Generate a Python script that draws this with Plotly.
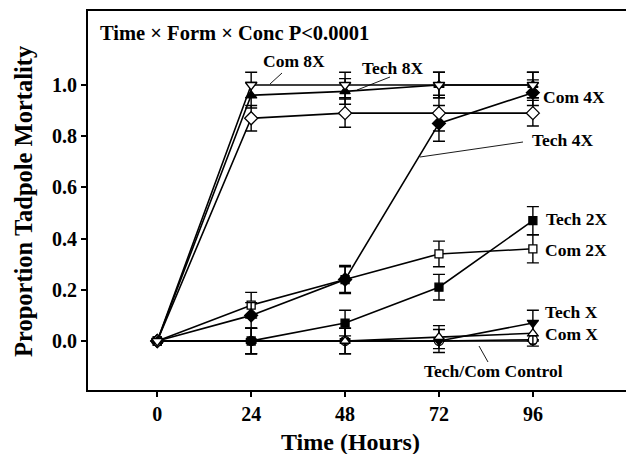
import plotly.graph_objects as go

# ---------------- data ----------------
hours = [0, 24, 48, 72, 96]
x_ticks = [0, 24, 48, 72, 96]
y_ticks = [0.0, 0.2, 0.4, 0.6, 0.8, 1.0]

tech_ctrl = [0, 0, 0, 0, 0]
com_ctrl = [0, 0, 0, 0, 0.005]
tech_x = [0, 0, 0, 0, 0.07]
com_x = [0, 0, 0, 0.015, 0.03]
tech_2x = [0, 0, 0.07, 0.21, 0.47]
com_2x = [0, 0.14, 0.24, 0.34, 0.36]
tech_4x = [0, 0.10, 0.24, 0.85, 0.97]
com_4x = [0, 0.87, 0.89, 0.89, 0.89]
tech_8x = [0, 0.96, 0.975, 1.0, 1.0]
com_8x = [0, 1.0, 1.0, 1.0, 1.0]

err_ctrl = [0, 0, 0, 0, 0]
err_x = [0, 0.05, 0.05, 0.045, 0.05]
err_2x = [0, 0.05, 0.05, 0.05, 0.055]
err_4x = [0, 0.05, 0.055, 0.07, 0.05]
err_8x = [0, 0.05, 0.05, 0.05, 0.05]

# ---------------- figure ----------------
W, H = 626, 454
ML, MR, MT, MB = 88, 0, 11, 64
PW, PH = W - ML - MR, H - MT - MB
FONT = "Liberation Serif"

def px(x):
    return (x - ML) / PW

def py(y):
    return (H - MB - y) / PH

series = [
    ("Tech Control", tech_ctrl, err_ctrl, "circle", "black", 8),
    ("Com Control", com_ctrl, err_ctrl, "circle", "white", 9),
    ("Tech X", tech_x, err_x, "triangle-down", "black", 9),
    ("Com X", com_x, err_x, "triangle-up", "white", 9),
    ("Tech 2X", tech_2x, err_2x, "square", "black", 8),
    ("Com 2X", com_2x, err_2x, "square", "white", 8),
    ("Tech 4X", tech_4x, err_4x, "diamond", "black", 10),
    ("Com 4X", com_4x, err_4x, "diamond", "white", 10),
    ("Tech 8X", tech_8x, err_8x, "triangle-up", "black", 9),
    ("Com 8X", com_8x, err_8x, "triangle-down", "white", 10),
]

fig = go.Figure()
for name, vals, errs, sym, fill, size in series:
    fig.add_trace(go.Scatter(
        x=hours, y=vals, name=name, mode="lines+markers",
        line=dict(color="black", width=1.6),
        marker=dict(symbol=sym, color=fill, size=size,
                    line=dict(color="black", width=1.3)),
        error_y=dict(type="data", array=errs, color="black",
                     thickness=1.4, width=6),
        showlegend=False,
    ))

# labels: (text, center x px, center y px)
labels = [
    ("Com 8X", 294, 61),
    ("Tech 8X", 392, 68),
    ("Com 4X", 574, 97),
    ("Tech 4X", 562, 140),
    ("Tech 2X", 576, 219),
    ("Com 2X", 576, 250),
    ("Tech X", 571, 312),
    ("Com X", 571, 334),
    ("Tech/Com Control", 493, 371),
]
annots = []
for txt, cx, cy in labels:
    annots.append(dict(text=txt, x=px(cx), y=py(cy), xref="paper", yref="paper",
                       xanchor="center", yanchor="middle", showarrow=False,
                       font=dict(family=FONT, size=17.5, color="black", weight="bold")))

annots.append(dict(text="Time × Form × Conc P<0.0001", x=px(98), y=py(33),
                   xref="paper", yref="paper", xanchor="left", yanchor="middle",
                   showarrow=False,
                   font=dict(family=FONT, size=20.5, color="black", weight="bold")))
annots.append(dict(text="Time (Hours)", x=px(350), y=py(442), xref="paper", yref="paper",
                   xanchor="center", yanchor="middle", showarrow=False,
                   font=dict(family=FONT, size=24, color="black", weight="bold")))
annots.append(dict(text="Proportion Tadpole Mortality", x=px(23), y=py(201),
                   xref="paper", yref="paper", xanchor="center", yanchor="middle",
                   showarrow=False, textangle=-90,
                   font=dict(family=FONT, size=24.5, color="black", weight="bold")))

leaders = [
    (270, 84, 282, 73),
    (357, 90, 390, 77),
    (420, 157, 523, 142),
    (479, 346, 488, 362),
]
shapes = [dict(type="line", xref="paper", yref="paper",
               x0=px(a), y0=py(b), x1=px(c), y1=py(d),
               line=dict(color="black", width=0.9)) for a, b, c, d in leaders]

fig.update_layout(
    width=W, height=H,
    margin=dict(l=ML, r=MR, t=MT, b=MB),
    paper_bgcolor="white", plot_bgcolor="white",
    annotations=annots, shapes=shapes,
    xaxis=dict(range=[-17.7, 119.8], tickvals=x_ticks, ticktext=[str(v) for v in x_ticks],
               showgrid=False, zeroline=False, showline=True, mirror=True,
               linecolor="black", linewidth=1.8, ticks="outside", ticklen=5,
               tickwidth=1.5, tickcolor="black",
               tickfont=dict(family=FONT, size=20, color="black", weight="bold")),
    yaxis=dict(range=[-0.1915, 1.289], tickvals=y_ticks,
               ticktext=[f"{v:.1f}" for v in y_ticks],
               showgrid=False, zeroline=False, showline=True, mirror=False,
               linecolor="black", linewidth=1.8, ticks="outside", ticklen=5,
               tickwidth=1.5, tickcolor="black",
               tickfont=dict(family=FONT, size=20, color="black", weight="bold")),
)

fig.write_html("out.html")
